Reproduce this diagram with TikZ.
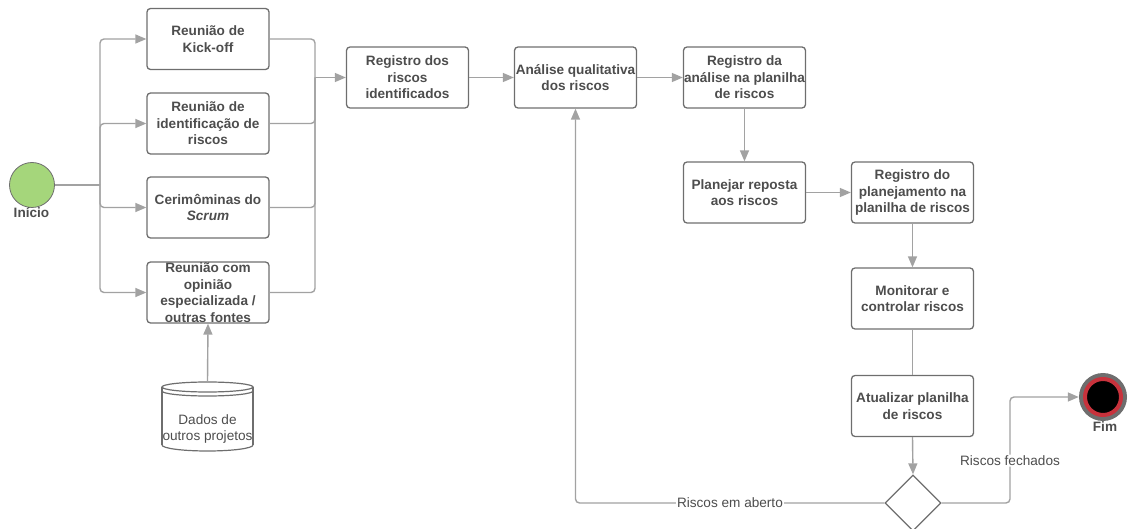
\documentclass[tikz,border=0pt]{standalone}
\usepackage{fontspec}
\setmainfont{Liberation Sans}
\usetikzlibrary{arrows.meta,shapes.geometric}
\definecolor{txt}{HTML}{4D4D4D}
\definecolor{edge}{HTML}{6E6E6E}
\definecolor{conn}{HTML}{A2A2A2}
\definecolor{startg}{HTML}{A5D67B}
\definecolor{endred}{HTML}{C8323C}

\begin{document}
\begin{tikzpicture}[x=1pt,y=-1pt,
  font=\fontsize{13.6}{16.5}\selectfont,
  task/.style={draw=edge, line width=1.3pt, rounded corners=3.5pt,
    minimum width=122pt, minimum height=61pt, align=center, text=txt,
    font=\fontsize{13.6}{16.5}\selectfont\bfseries, inner sep=0pt},
  wire/.style={draw=conn, line width=1.4pt, rounded corners=4pt},
  flow/.style={wire, -{Triangle[length=11pt,width=9pt]}},
  lbl/.style={fill=white, text=txt, inner sep=1pt},
  boldlbl/.style={text=txt, font=\fontsize{13.6}{16.5}\selectfont\bfseries, inner sep=0pt},
  dbline/.style={draw=edge, line width=1.2pt},
]
\useasboundingbox (0,0) rectangle (1128,529);

% start and end events
\node[circle, draw=edge, line width=0.8pt, fill=startg, minimum size=45pt, inner sep=0pt] (ini) at (32,185) {};
\node[boldlbl] (inilbl) at (31.5,213) {Início};
\node[circle, fill=edge, minimum size=48pt, inner sep=0pt] (fim) at (1103,397) {};
\node[circle, fill=black, draw=endred, line width=4pt, minimum size=36pt, inner sep=0pt] (fimcore) at (fim) {};
\node[boldlbl] (fimlbl) at (1105,427) {Fim};

% identification activities
\node[task] (kick) at (208,39) {Reunião de\\Kick-off};
\node[task] (ident) at (208,123.5) {Reunião de\\identificação de\\riscos};
\node[task] (cer) at (208,207.5) {Cerimôminas do\\\textit{Scrum}};
\node[task] (op) at (208,292.5) {Reunião com\\opinião\\especializada /\\outras fontes};

% main flow
\node[task] (reg1) at (407.5,77.5) {Registro dos\\riscos\\identificados};
\node[task] (anal) at (575.5,77.5) {Análise qualitativa\\dos riscos};
\node[task] (reganal) at (744.5,77.5) {Registro da\\análise na planilha\\de riscos};
\node[task] (plan) at (744.5,192.5) {Planejar reposta\\aos riscos};
\node[task] (regplan) at (912.5,192.5) {Registro do\\planejamento na\\planilha de riscos};
\node[task] (mon) at (912.5,298.5) {Monitorar e\\controlar riscos};
\node[task] (atu) at (912.5,406) {Atualizar planilha\\de riscos};
\node[draw=edge, line width=1.3pt, diamond, minimum width=56pt, minimum height=56pt, inner sep=0pt] (dec) at (913,503) {};

% database of other projects
\node[minimum width=91pt, minimum height=69pt, inner sep=0pt] (db) at (207.5,416.5) {};
\draw[dbline] (162,387) -- (162,445);
\draw[dbline] (253,387) -- (253,445);
\draw[dbline] (162,445) arc[start angle=180, end angle=360, x radius=45.5pt, y radius=6pt];
\draw[dbline, fill=white] (207.5,387) ellipse [x radius=45.5pt, y radius=5pt];
\draw[dbline] (162,391) arc[start angle=180, end angle=360, x radius=45.5pt, y radius=5pt];
\node[text=txt, align=center, inner sep=0pt] (dbtxt) at (207.5,429) {Dados de\\outros projetos};

% fan-out from the start
\coordinate (jL) at (100,185);
\draw[wire] (ini.east) -- (jL);
\draw[flow] (jL) |- (kick.west);
\draw[flow] (jL) |- (ident.west);
\draw[flow] (jL) |- (cer.west);
\draw[flow] (jL) |- (op.west);
\draw[flow] (db.north) -- (op.south);

% merge into the register
\coordinate (jR) at (315,77.5);
\draw[wire] (kick.east) -| (jR);
\draw[wire] (ident.east) -| (jR);
\draw[wire] (cer.east) -| (jR);
\draw[wire] (op.east) -| (jR);
\draw[flow] (jR) -- (reg1.west);

\draw[flow] (reg1.east) -- (anal.west);
\draw[flow] (anal.east) -- (reganal.west);
\draw[flow] (reganal.south) -- (plan.north);
\draw[flow] (plan.east) -- (regplan.west);
\draw[flow] (regplan.south) -- (mon.north);
\draw[wire] (mon.south) -- (atu.north);
\draw[flow] (atu.south) -- (dec.north);

% decision outcomes
\draw[flow] (dec.west) -| node[lbl, pos=0.25] {Riscos em aberto} (anal.south);
\coordinate (turn) at (1010,397);
\draw[flow] (dec.east) -| node[lbl, pos=0.7] {Riscos fechados} (turn) -- (fim.west);
\end{tikzpicture}
\end{document}
